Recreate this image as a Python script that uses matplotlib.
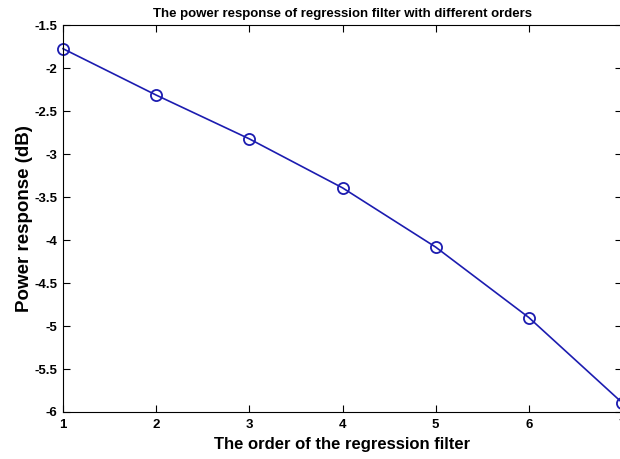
import matplotlib
matplotlib.use("Agg")
import matplotlib.pyplot as plt

# data
orders = [1, 2, 3, 4, 5, 6, 7]
power_db = [-1.77, -2.31, -2.82, -3.39, -4.08, -4.90, -5.89]
yticks = [-6, -5.5, -5, -4.5, -4, -3.5, -3, -2.5, -2, -1.5]
ytick_labels = ["-6", "-5.5", "-5", "-4.5", "-4", "-3.5", "-3", "-2.5", "-2", "-1.5"]

plt.rcParams["font.family"] = ["Liberation Sans", "DejaVu Sans"]

W, H = 620, 459
fig = plt.figure(figsize=(W / 100, H / 100), dpi=100)
ax = fig.add_axes([63 / W, (H - 412) / H, (622 - 63) / W, (412 - 25.5) / H])

line_col = "#1c1cb0"
ax.plot(orders, power_db, "-", color=line_col, linewidth=1.2,
        marker="o", markersize=8, markerfacecolor="none",
        markeredgecolor=line_col, markeredgewidth=1.3, clip_on=False)

ax.set_xlim(1, 7)
ax.set_ylim(-6, -1.5)
ax.set_xticks(orders)
ax.set_yticks(yticks)
ax.set_yticklabels(ytick_labels)

ax.tick_params(direction="in", length=5, width=0.8, top=True, right=True,
               labelsize=9.5)
ax.tick_params(axis="x", pad=5)
ax.tick_params(axis="y", pad=4)
for lbl in ax.get_xticklabels() + ax.get_yticklabels():
    lbl.set_fontweight("bold")
for sp in ax.spines.values():
    sp.set_linewidth(0.8)

ax.set_title("The power response of regression filter with different orders",
             fontsize=9.5, fontweight="bold", pad=6)
ax.set_xlabel("The order of the regression filter", fontsize=12,
              fontweight="bold", labelpad=4)
ax.set_ylabel("Power response (dB)", fontsize=13.5, fontweight="bold", labelpad=1)

fig.savefig("out.png", dpi=100)
